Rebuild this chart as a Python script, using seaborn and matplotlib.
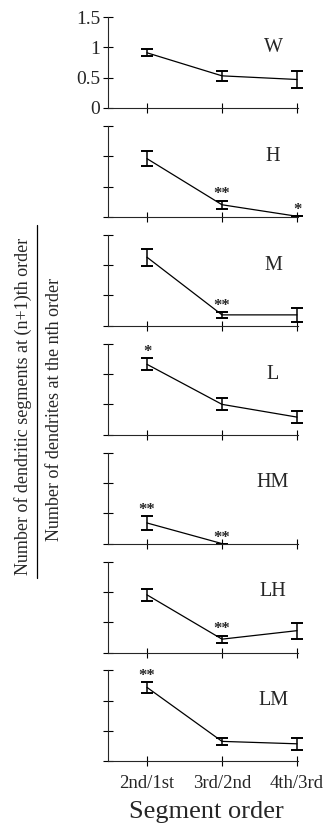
import numpy as np
import pandas as pd
import seaborn as sns
import matplotlib
matplotlib.use("Agg")
import matplotlib.pyplot as plt
from matplotlib.lines import Line2D

# ---------------- data ----------------
categories = ["2nd/1st", "3rd/2nd", "4th/3rd"]
groups = ["W", "H", "M", "L", "HM", "LH", "LM"]

means_W = [0.91, 0.53, 0.47]
errs_W = [0.06, 0.08, 0.14]
means_H = [0.96, 0.20, 0.01]
errs_H = [0.12, 0.07, 0.0]
means_M = [1.13, 0.18, 0.18]
errs_M = [0.14, 0.05, 0.12]
means_L = [1.16, 0.50, 0.29]
errs_L = [0.10, 0.10, 0.10]
means_HM = [0.34, 0.0]
errs_HM = [0.12, 0.0]
means_LH = [0.95, 0.22, 0.36]
errs_LH = [0.10, 0.06, 0.13]
means_LM = [1.22, 0.33, 0.29]
errs_LM = [0.09, 0.06, 0.10]

stars_W = ["", "", ""]
stars_H = ["", "**", "*"]
stars_M = ["", "**", ""]
stars_L = ["*", "", ""]
stars_HM = ["**", "**"]
stars_LH = ["", "**", ""]
stars_LM = ["**", "", ""]

yticks = [0, 0.5, 1, 1.5]
ytick_labels = ["0", "0.5", "1", "1.5"]

means = [means_W, means_H, means_M, means_L, means_HM, means_LH, means_LM]
errs = [errs_W, errs_H, errs_M, errs_L, errs_HM, errs_LH, errs_LM]
stars = [stars_W, stars_H, stars_M, stars_L, stars_HM, stars_LH, stars_LM]

# ---------------- style ----------------
sns.set_style("ticks")
plt.rcParams["font.family"] = ["Liberation Serif", "DejaVu Serif"]
plt.rcParams["axes.linewidth"] = 0.8

W_PX, H_PX = 328, 827
fig = plt.figure(figsize=(W_PX / 100, H_PX / 100), dpi=100)

left_px, right_px = 108, 298
top0_px, step_px, height_px = 17, 108.9, 91

for i, g in enumerate(groups):
    top = top0_px + i * step_px
    ax = fig.add_axes([left_px / W_PX, 1 - (top + height_px) / H_PX,
                       (right_px - left_px) / W_PX, height_px / H_PX])
    m = means[i]
    e = errs[i]
    xs = list(range(len(m)))
    df = pd.DataFrame({"x": xs, "y": m})
    sns.lineplot(data=df, x="x", y="y", ax=ax, color="black", linewidth=0.9,
                 errorbar=None)
    ax.errorbar(xs, m, yerr=e, fmt="none", ecolor="black", elinewidth=1.1,
                capsize=4.5, capthick=1.4, clip_on=False)
    for xi, (mi, ei, s) in enumerate(zip(m, e, stars[i])):
        if s:
            ax.text(xi, mi + ei + 0.1, s, ha="center", va="center",
                    fontsize=12, fontweight="bold")
    ax.text(1.68, 1.0, g, ha="center", va="center", fontsize=14.5)

    ax.set_xlim(-0.52, 2.013)
    ax.set_ylim(0, 1.5)
    ax.set_xticks([0, 1, 2])
    ax.set_yticks(yticks)
    ax.set_xlabel("")
    ax.set_ylabel("")
    ax.tick_params(direction="inout", length=7, width=0.8, color="black")
    sns.despine(ax=ax)
    if i == 0:
        ax.set_yticklabels(ytick_labels, fontsize=14)
        ax.tick_params(axis="y", pad=2)
    else:
        ax.set_yticklabels([])
    if i == len(groups) - 1:
        ax.set_xticklabels(categories, fontsize=13.5)
        ax.tick_params(axis="x", pad=6)
    else:
        ax.set_xticklabels([])

# y label as a fraction
fig.text(23 / W_PX, 1 - 406 / H_PX, "Number of dendritic segments at (n+1)th order",
         rotation=90, ha="center", va="center", fontsize=13)
fig.text(55 / W_PX, 1 - 409 / H_PX, "Number of dendrites at the nth order",
         rotation=90, ha="center", va="center", fontsize=13)
fig.add_artist(Line2D([36.7 / W_PX, 36.7 / W_PX], [1 - 225 / H_PX, 1 - 578 / H_PX],
                      color="black", linewidth=0.9, transform=fig.transFigure))

fig.text(206 / W_PX, 1 - 812 / H_PX, "Segment order", ha="center", va="center",
         fontsize=19)

fig.savefig("out.png", dpi=100)
